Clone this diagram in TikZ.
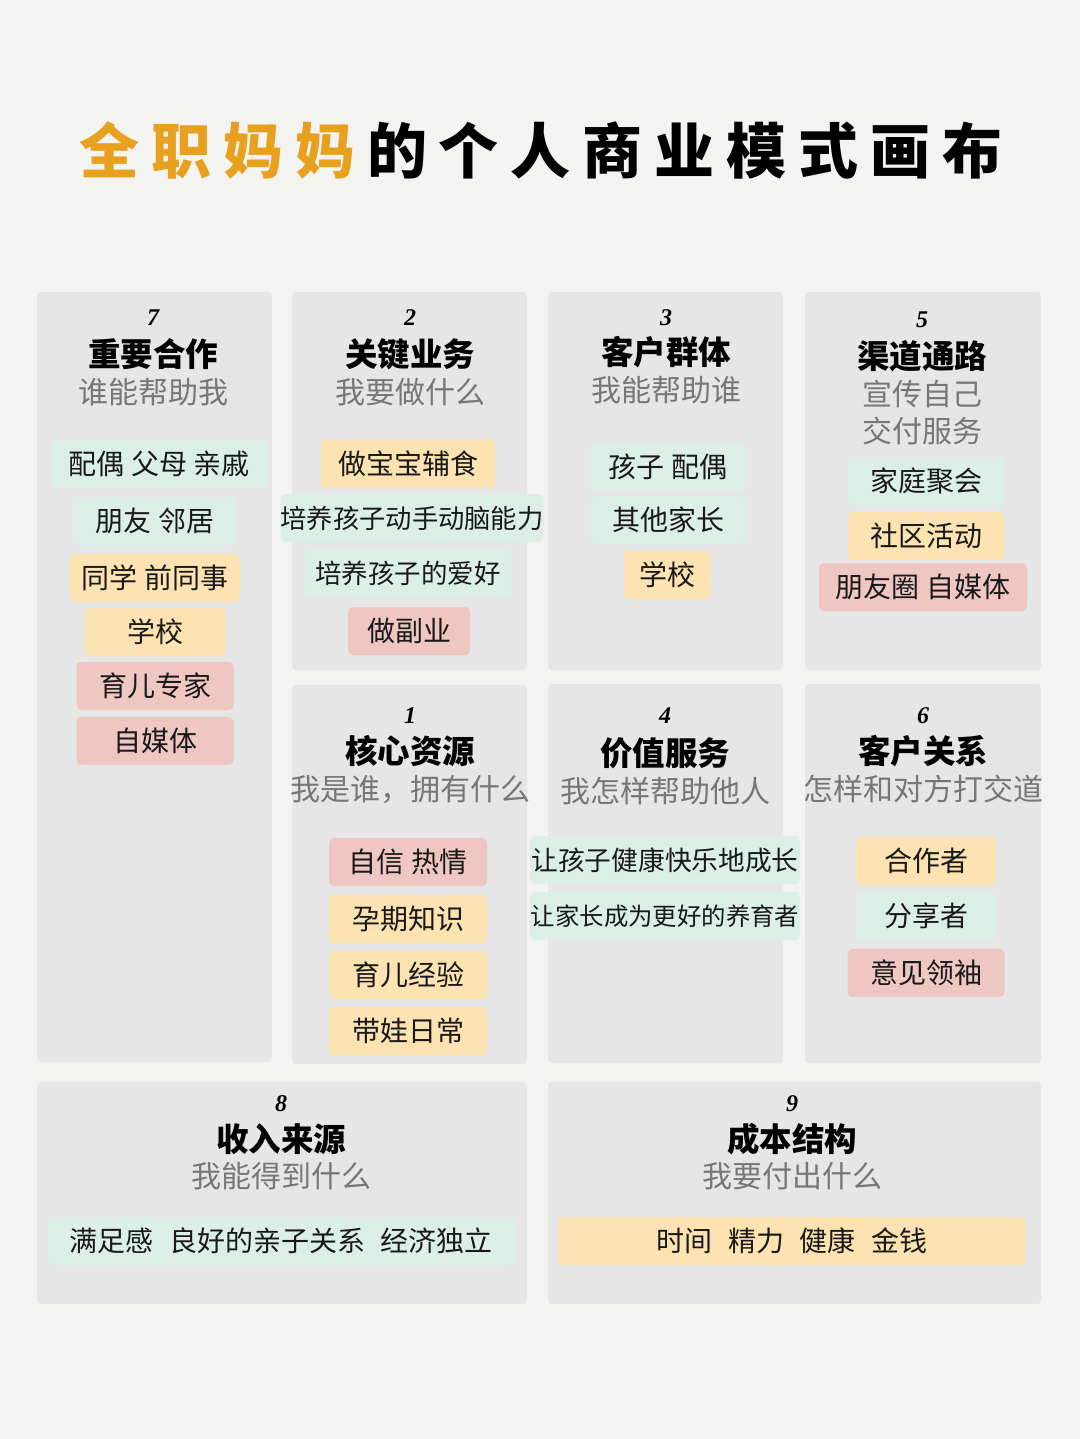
\documentclass[tikz,border=0pt]{standalone}
\usepackage{fontspec}
\setmainfont{Noto Sans CJK SC}
\newfontfamily\numfont{Liberation Serif}
\definecolor{bgc}{HTML}{F3F4F2}
\definecolor{panelc}{HTML}{E6E6E6}
\definecolor{chipg}{HTML}{DCEFE7}
\definecolor{chipy}{HTML}{FCE3B1}
\definecolor{chipr}{HTML}{EEC6C2}
\definecolor{subc}{HTML}{777777}
\definecolor{orangec}{HTML}{E8A11F}
\begin{document}
\begin{tikzpicture}[x=1pt,y=-1pt,
 panel/.style={fill=panelc, rounded corners=4pt, draw=none},
 chip/.style={rounded corners=5pt, inner sep=0pt, minimum height=48pt, text=black!90, font=\fontsize{28}{32}\selectfont},
 cg/.style={chip, fill=chipg}, cy/.style={chip, fill=chipy}, cr/.style={chip, fill=chipr},
 num/.style={inner sep=0pt, font=\numfont\itshape\bfseries\fontsize{24}{24}\selectfont},
 ttl/.style={inner sep=0pt, font=\bfseries\fontsize{32.5}{36}\selectfont},
 sub/.style={inner sep=0pt, text=subc, font=\fontsize{30}{34}\selectfont}]
\fill[bgc] (0,0) rectangle (1080,1439);
\useasboundingbox (0,0) rectangle (1080,1439);

% title
\node[inner sep=0pt, font=\bfseries\fontsize{60}{70}\selectfont\addfontfeature{LetterSpace=20}] (title) at (541,150)
 {\textcolor{orangec}{全职妈妈}\hspace{0.2em}的个人商业模式画布};

% panels
\path[panel] (37,292) rectangle (272,1062);
\path[panel] (292,292) rectangle (527,670);
\path[panel] (548,292) rectangle (783,670);
\path[panel] (805,292) rectangle (1041,670);
\path[panel] (292,685) rectangle (527,1064);
\path[panel] (548,684) rectangle (783,1063);
\path[panel] (805,684) rectangle (1041,1063);
\path[panel] (37,1082) rectangle (527,1304);
\path[panel] (548,1082) rectangle (1041,1304);

% panel 7
\node[num] (n7) at (153,318) {7};
\node[ttl] (t7) at (153,354) {重要合作};
\node[sub] (s7) at (153,392) {谁能帮助我};
\node[cg, minimum width=218pt] (c7a) at (159,464) {配偶 父母 亲戚};
\node[cg, minimum width=166pt] (c7b) at (155,521) {朋友 邻居};
\node[cy, minimum width=170pt] (c7c) at (155,578) {同学 前同事};
\node[cy, minimum width=141pt] (c7d) at (155,632) {学校};
\node[cr, minimum width=157pt] (c7e) at (155,686) {育儿专家};
\node[cr, minimum width=157pt] (c7f) at (155,741) {自媒体};

% panel 2
\node[num] (n2) at (410,318) {2};
\node[ttl] (t2) at (410,354) {关键业务};
\node[sub] (s2) at (410,392) {我要做什么};
\node[cy, minimum width=174pt] (c2a) at (408,464) {做宝宝辅食};
\node[cg, minimum width=257pt, font=\fontsize{26.3}{30}\selectfont] (c2b) at (412,518) {培养孩子动手动脑能力};
\node[cg, minimum width=207pt, font=\fontsize{26.5}{30}\selectfont] (c2c) at (408,573) {培养孩子的爱好};
\node[cr, minimum width=122pt] (c2d) at (409,631) {做副业};

% panel 3
\node[num] (n3) at (666,318) {3};
\node[ttl] (t3) at (666,352) {客户群体};
\node[sub] (s3) at (666,390) {我能帮助谁};
\node[cg, minimum width=155pt] (c3a) at (668,467) {孩子 配偶};
\node[cg, minimum width=155pt] (c3b) at (668,520) {其他家长};
\node[cy, minimum width=87pt] (c3c) at (667,575) {学校};

% panel 5
\node[num] (n5) at (922,320) {5};
\node[ttl] (t5) at (922,356) {渠道通路};
\node[sub] (s5a) at (922,394) {宣传自己};
\node[sub] (s5b) at (922,431) {交付服务};
\node[cg, minimum width=156pt] (c5a) at (926,481) {家庭聚会};
\node[cy, minimum width=156pt] (c5b) at (926,536) {社区活动};
\node[cr, minimum width=208pt] (c5c) at (923,587) {朋友圈 自媒体};

% panel 1
\node[num] (n1) at (410,716) {1};
\node[ttl] (t1) at (410,751) {核心资源};
\node[sub] (s1) at (410,789) {我是谁，拥有什么};
\node[cr, minimum width=158pt] (c1a) at (408,862) {自信 热情};
\node[cy, minimum width=158pt] (c1b) at (408,919) {孕期知识};
\node[cy, minimum width=158pt] (c1c) at (408,975) {育儿经验};
\node[cy, minimum width=158pt] (c1d) at (408,1031) {带娃日常};

% panel 4
\node[num] (n4) at (665,716) {4};
\node[ttl] (t4) at (665,753) {价值服务};
\node[sub] (s4) at (665,791) {我怎样帮助他人};
\node[cg, minimum width=270pt, font=\fontsize{26.7}{30}\selectfont] (c4a) at (665,860) {让孩子健康快乐地成长};
\node[cg, minimum width=270pt, font=\fontsize{24.4}{28}\selectfont] (c4b) at (665,916) {让家长成为更好的养育者};

% panel 6
\node[num] (n6) at (923,716) {6};
\node[ttl] (t6) at (923,751) {客户关系};
\node[sub] (s6) at (923,789) {怎样和对方打交道};
\node[cy, minimum width=140pt] (c6a) at (926,861) {合作者};
\node[cg, minimum width=140pt] (c6b) at (926,916) {分享者};
\node[cr, minimum width=157pt] (c6c) at (926,973) {意见领袖};

% panel 8
\node[num] (n8) at (281,1104) {8};
\node[ttl] (t8) at (281,1139) {收入来源};
\node[sub] (s8) at (281,1176) {我能得到什么};
\node[cg, minimum width=467pt] (c8) at (281,1241) {满足感\hspace{0.55em}良好的亲子关系\hspace{0.55em}经济独立};

% panel 9
\node[num] (n9) at (792,1104) {9};
\node[ttl] (t9) at (792,1139) {成本结构};
\node[sub] (s9) at (792,1176) {我要付出什么};
\node[cy, minimum width=467pt] (c9) at (792,1241) {时间\hspace{0.55em}精力\hspace{0.55em}健康\hspace{0.55em}金钱};
\end{tikzpicture}
\end{document}
